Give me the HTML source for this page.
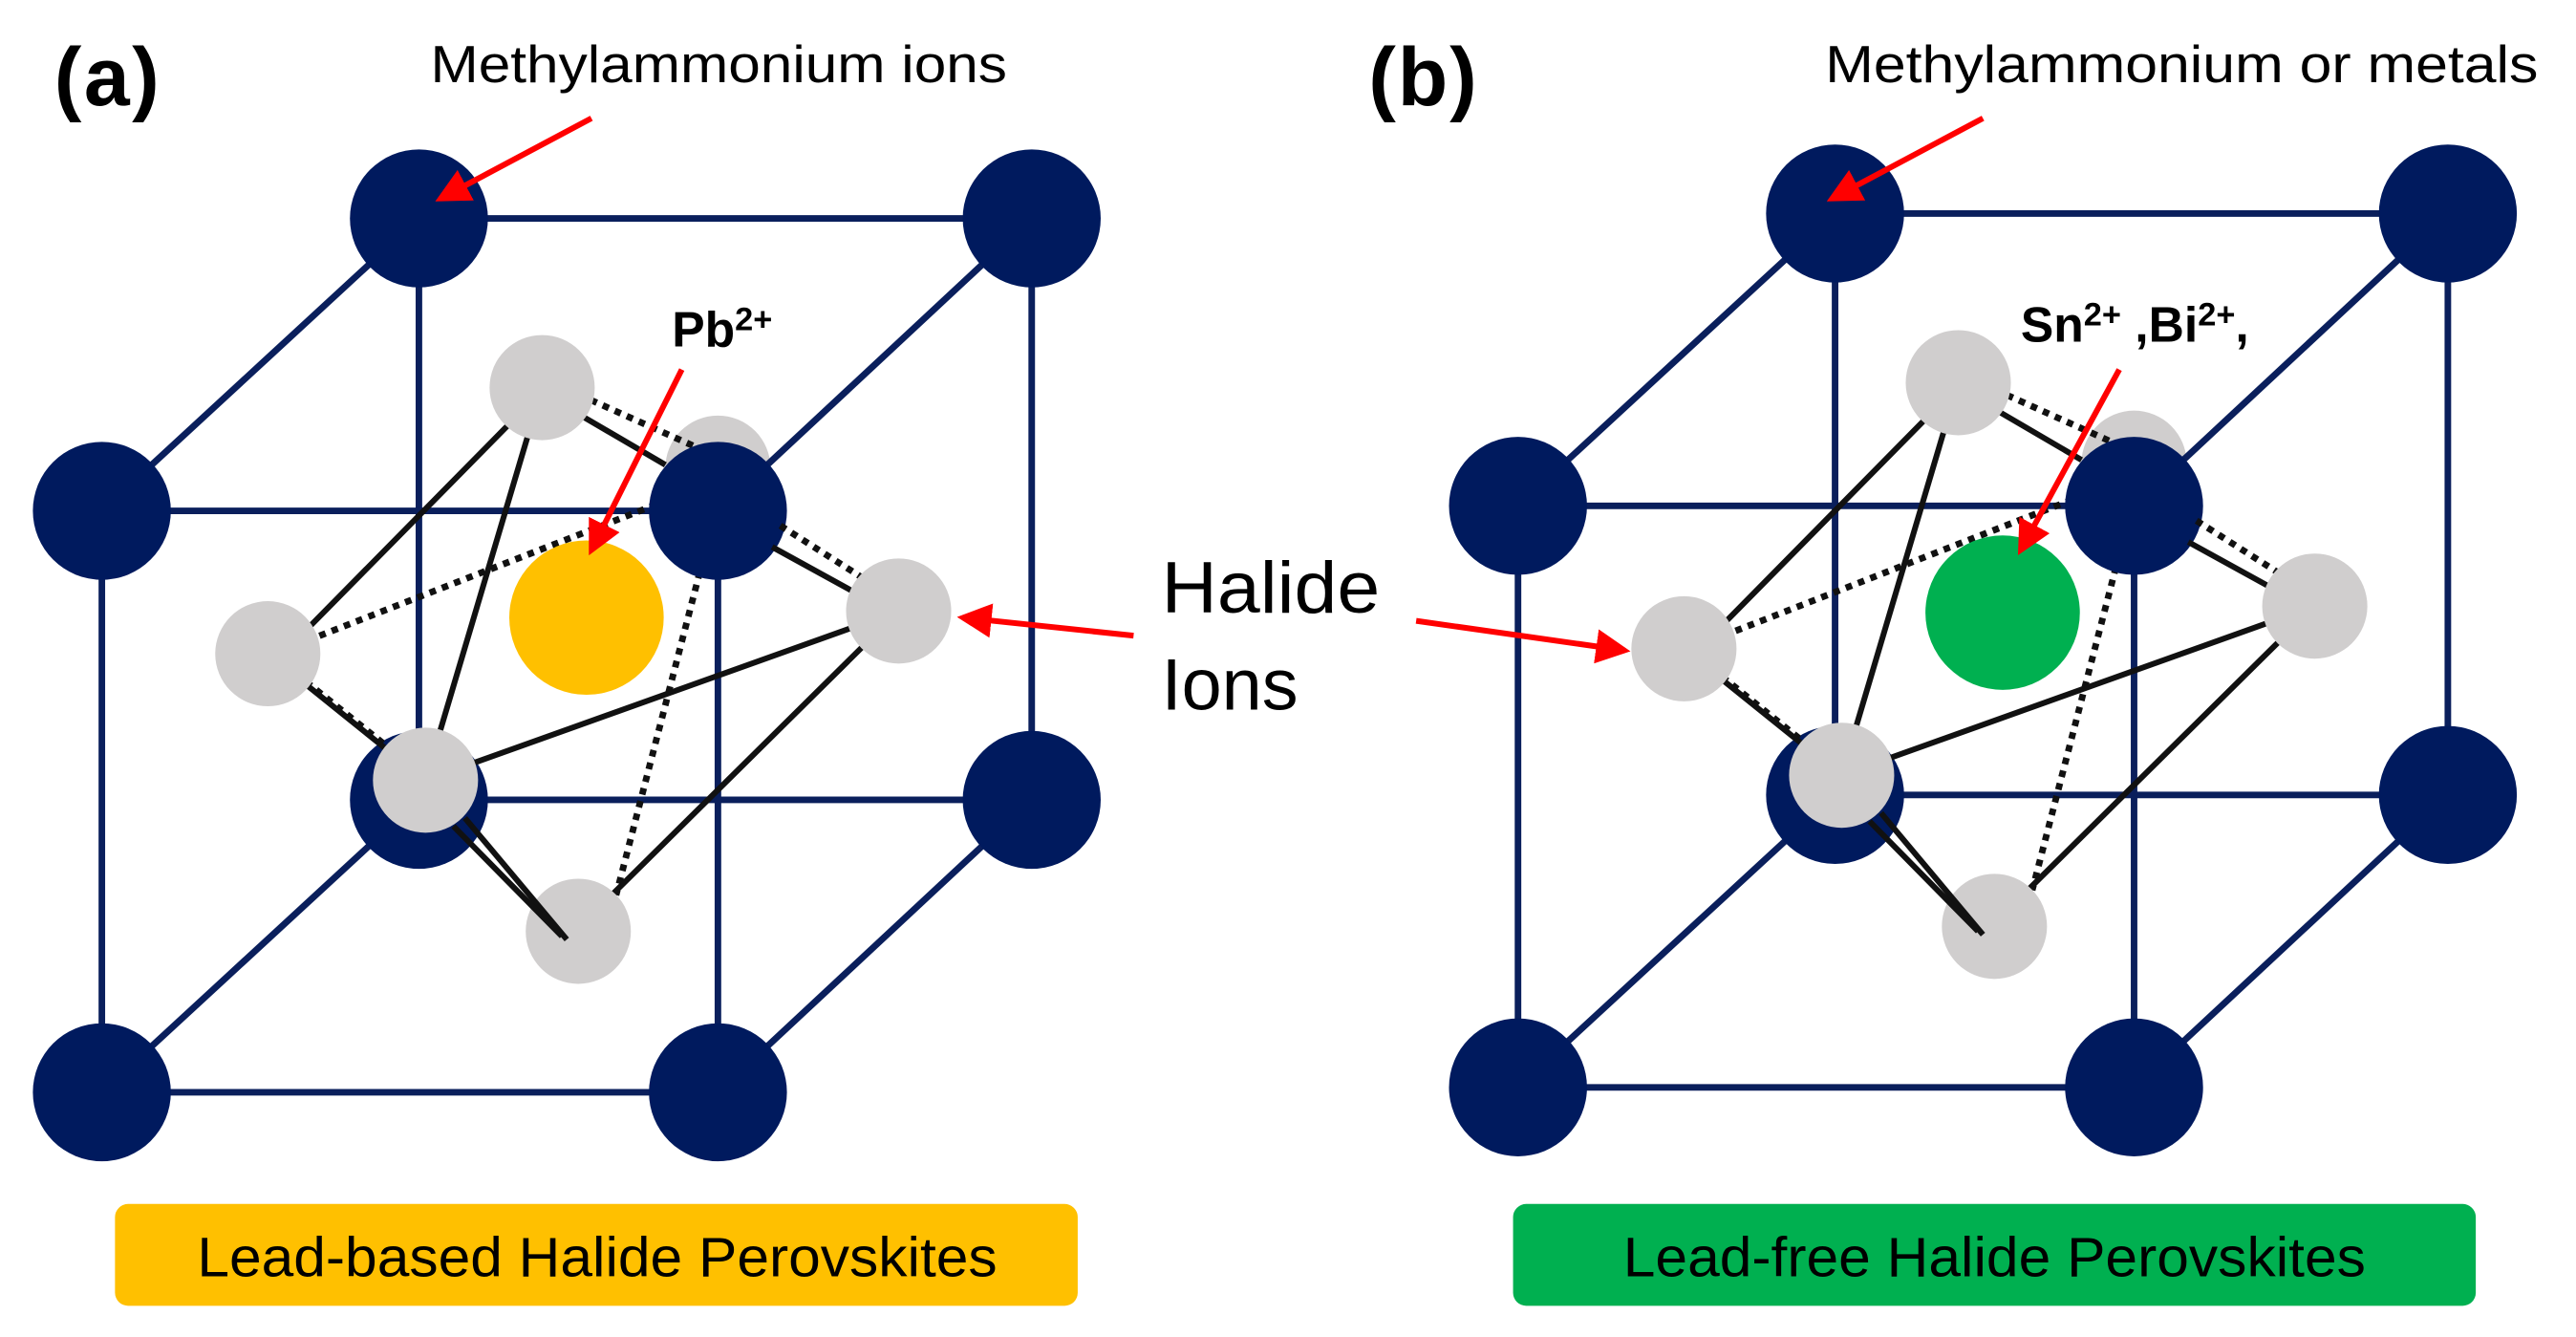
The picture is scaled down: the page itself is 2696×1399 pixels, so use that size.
<!DOCTYPE html>
<html><head><meta charset="utf-8"><style>
html,body{margin:0;padding:0;background:#fff;}
svg{display:block;}
text{font-family:"Liberation Sans",Arial,sans-serif;}
</style></head><body>
<svg width="2696" height="1399" viewBox="0 0 1568 814" preserveAspectRatio="none" xmlns="http://www.w3.org/2000/svg">
<defs>
<marker id="ah" markerWidth="6" markerHeight="6" refX="5" refY="3" orient="auto" markerUnits="strokeWidth">
<path d="M0,0 L6,3 L0,6 z" fill="#FF0000"/>
</marker>
<g id="cell">
  <circle cx="437" cy="285" r="32" fill="#D0CECE"/>
  <g stroke="#0A1F5C" stroke-width="4" fill="none">
    <line x1="255" y1="133" x2="628" y2="133"/>
    <line x1="255" y1="133" x2="255" y2="487"/>
    <line x1="628" y1="133" x2="628" y2="487"/>
    <line x1="255" y1="487" x2="628" y2="487"/>
    <line x1="62" y1="311" x2="437" y2="311"/>
    <line x1="62" y1="311" x2="62" y2="665"/>
    <line x1="437" y1="311" x2="437" y2="665"/>
    <line x1="62" y1="665" x2="437" y2="665"/>
    <line x1="255" y1="133" x2="62" y2="311"/>
    <line x1="628" y1="133" x2="437" y2="311"/>
    <line x1="255" y1="487" x2="62" y2="665"/>
    <line x1="628" y1="487" x2="437" y2="665"/>
  </g>
  <g fill="#001A5E">
    <circle cx="255" cy="133" r="42"/>
    <circle cx="628" cy="133" r="42"/>
    <circle cx="255" cy="487" r="42"/>
    <circle cx="628" cy="487" r="42"/>
    <circle cx="62" cy="311" r="42"/>
    <circle cx="62" cy="665" r="42"/>
    <circle cx="437" cy="665" r="42"/>
  </g>
  <g stroke="#111" stroke-width="4" stroke-dasharray="4,4" fill="none">
    <line x1="187" y1="390" x2="405" y2="305"/>
    <line x1="432" y1="325" x2="375" y2="545"/>
    <line x1="345" y1="237" x2="430" y2="275"/>
    <line x1="180" y1="410" x2="255" y2="470"/>
  </g>
  <g fill="#001A5E"><circle cx="437" cy="311" r="42"/></g>
  <g stroke="#111" stroke-width="4" stroke-dasharray="4,4" fill="none">
    <line x1="475" y1="320" x2="530" y2="355"/>
  </g>
  <g stroke="#111" stroke-width="3.5" fill="none">
    <line x1="340" y1="245" x2="405" y2="283"/>
    <line x1="470" y1="333" x2="530" y2="366"/>
  </g>
  <g stroke="#111" stroke-width="3.5" fill="none">
    <line x1="318" y1="250" x2="185" y2="385"/>
    <line x1="330" y1="236" x2="259" y2="475"/>
    <line x1="259" y1="475" x2="547" y2="372"/>
    <line x1="547" y1="372" x2="345" y2="572"/>
    <line x1="163" y1="398" x2="240" y2="460"/>
  </g>
  <g fill="#D0CECE">
    <circle cx="330" cy="236" r="32"/>
    <circle cx="163" cy="398" r="32"/>
    <circle cx="547" cy="372" r="32"/>
    <circle cx="259" cy="475" r="32"/>
    <circle cx="352" cy="567" r="32"/>
  </g>
  <g stroke="#111" stroke-width="3.5">
    <line x1="283" y1="498" x2="345" y2="572"/>
    <line x1="276" y1="503" x2="342" y2="570"/>
  </g>
</g>
</defs>

<g>
  <use href="#cell"/>
  <circle cx="357" cy="376" r="47" fill="#FFC000"/>
  <line x1="360" y1="72" x2="268" y2="121" stroke="#FF0000" stroke-width="3.5" marker-end="url(#ah)"/>
  <line x1="415" y1="225" x2="360" y2="335" stroke="#FF0000" stroke-width="3.5" marker-end="url(#ah)"/>
  <line x1="690" y1="387" x2="586" y2="376" stroke="#FF0000" stroke-width="3.5" marker-end="url(#ah)"/>
  <text x="33" y="64" font-size="50" font-weight="bold" textLength="64">(a)</text>
  <text x="262" y="50" font-size="32" textLength="351" lengthAdjust="spacingAndGlyphs">Methylammonium ions</text>
  <text x="409" y="211" font-size="30" font-weight="bold">Pb<tspan font-size="20" dy="-10">2+</tspan></text>
  <rect x="70" y="733" width="586" height="62" rx="8" fill="#FFC000"/>
  <text x="120" y="777" font-size="34" textLength="487" lengthAdjust="spacingAndGlyphs">Lead-based Halide Perovskites</text>
</g>

<text x="707" y="373" font-size="44" textLength="133" lengthAdjust="spacingAndGlyphs">Halide</text>
<text x="707" y="432" font-size="44">Ions</text>

<g transform="translate(862,-3)">
  <use href="#cell"/>
  <circle cx="357" cy="376" r="47" fill="#00B050"/>
  <line x1="345" y1="75" x2="253" y2="124" stroke="#FF0000" stroke-width="3.5" marker-end="url(#ah)"/>
  <line x1="428" y1="228" x2="368" y2="338" stroke="#FF0000" stroke-width="3.5" marker-end="url(#ah)"/>
</g>
<line x1="862" y1="378" x2="989" y2="396" stroke="#FF0000" stroke-width="3.5" marker-end="url(#ah)"/>
<text x="833" y="64" font-size="50" font-weight="bold" textLength="66">(b)</text>
<text x="1111" y="50" font-size="32" textLength="434" lengthAdjust="spacingAndGlyphs">Methylammonium or metals</text>
<text x="1230" y="208" font-size="30" font-weight="bold">Sn<tspan font-size="20" dy="-10">2+</tspan><tspan dy="10"> ,Bi</tspan><tspan font-size="20" dy="-10">2+</tspan><tspan dy="10">,</tspan></text>
<rect x="921" y="733" width="586" height="62" rx="8" fill="#00B050"/>
<text x="988" y="777" font-size="34" textLength="452" lengthAdjust="spacingAndGlyphs">Lead-free Halide Perovskites</text>
</svg>
</body></html>
